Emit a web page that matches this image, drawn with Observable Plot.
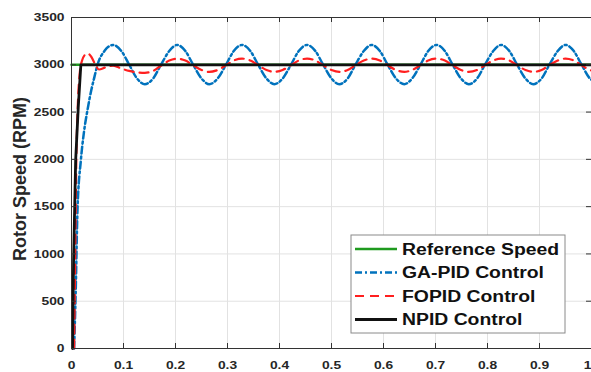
<!DOCTYPE html>
<html><head><meta charset="utf-8">
<script src="https://cdn.jsdelivr.net/npm/d3@7"></script>
<script src="https://cdn.jsdelivr.net/npm/@observablehq/plot@0.6"></script>
<style>
body{margin:0;background:#fff;}
#chart{width:591px;height:372px;overflow:hidden;position:relative;}
</style>
</head><body><div id="chart"></div>
<script>
// ---- data ----
const xTicks = [0,0.1,0.2,0.3,0.4,0.5,0.6,0.7,0.8,0.9,1];
const xTickLabels = ["0","0.1","0.2","0.3","0.4","0.5","0.6","0.7","0.8","0.9","1"];
const yTicks = [0,500,1000,1500,2000,2500,3000,3500];
const yTickLabels = ["0","500","1000","1500","2000","2500","3000","3500"];
const yLabel = "Rotor Speed (RPM)";
const seriesNames = ["Reference Speed","GA-PID Control","FOPID Control","NPID Control"];

const tRef = [0, 1];
const vRef = [3000, 3000];

const tNPID = [0.002,0.004,0.008,0.013,0.018,1.0];
const vNPID = [0,930,1990,2550,3000,3000];

const tGA = [0.005,0.008,0.0115,0.018,0.024,0.031,0.038,0.044,0.050,0.064,
0.080,0.096,0.111,0.126,0.141,0.157,0.172,0.188,
0.203,0.219,0.234,0.250,0.265,0.281,0.297,0.312,
0.328,0.344,0.359,0.375,0.390,0.406,0.422,0.437,
0.453,0.469,0.484,0.500,0.515,0.531,0.546,0.562,
0.577,0.593,0.608,0.624,0.640,0.655,0.671,0.686,
0.702,0.718,0.733,0.749,0.764,0.780,0.795,0.811,
0.826,0.842,0.857,0.873,0.888,0.904,0.919,0.935,
0.950,0.966,0.981,0.997,1.000];
const vGA = [0,580,1460,1990,2290,2530,2730,2870,3000,3150,
3210,3145,3000,2855,2795,2855,3000,3145,
3210,3145,3000,2855,2795,2855,3000,3145,
3210,3145,3000,2855,2795,2855,3000,3145,
3210,3145,3000,2855,2795,2855,3000,3145,
3210,3145,3000,2855,2795,2855,3000,3145,
3210,3145,3000,2855,2795,2855,3000,3145,
3210,3145,3000,2855,2795,2855,3000,3145,
3210,3145,3000,2855,2840];

const tFO = [0.005,0.007,0.009,0.012,0.016,0.020,0.025,0.031,0.038,0.046,0.053,0.064,
0.080,0.096,0.111,0.126,0.141,0.157,0.172,0.188,
0.203,0.219,0.234,0.250,0.265,0.281,0.297,0.312,
0.328,0.344,0.359,0.375,0.390,0.406,0.422,0.437,
0.453,0.469,0.484,0.500,0.515,0.531,0.546,0.562,
0.577,0.593,0.608,0.624,0.640,0.655,0.671,0.686,
0.702,0.718,0.733,0.749,0.764,0.780,0.795,0.811,
0.826,0.842,0.857,0.873,0.888,0.904,0.919,0.935,
0.950,0.966,0.981,0.997,1.000];
const vFO = [0,900,1900,2550,2920,3040,3100,3120,3085,3000,2950,2970,
2990,2960,2935,2920,2915,2935,2990,3045,
3065,3045,2995,2945,2925,2945,2995,3045,
3065,3045,2995,2945,2925,2945,2995,3045,
3065,3045,2995,2945,2925,2945,2995,3045,
3065,3045,2995,2945,2925,2945,2995,3045,
3065,3045,2995,2945,2925,2945,2995,3045,
3065,3045,2995,2945,2925,2945,2995,3045,
3065,3045,2995,2945,2940];

// ---- styles ----
const colors = ["#1f9a1f","#0072BD","#ff1f1f","#111111"];
const dashes = [null,"7,3,2,3","9,6",null];
const widths = [2.5,2.5,2.2,2.8];

const W=591,H=372,mL=71,mR=0,mT=17,mB=24;
const pw=W-mL-mR, ph=H-mT-mB;
const rows=(t,v)=>t.map((d,i)=>({t:d,v:v[i]}));

const chart = Plot.plot({
  width:W,height:H,marginLeft:mL,marginRight:mR,marginTop:mT,marginBottom:mB,
  style:{fontFamily:"'Liberation Sans', Arial, sans-serif",fontSize:"11.5px",fontWeight:"bold",color:"#262626",background:"#fff"},
  x:{domain:[0,1]},
  y:{domain:[0,3500]},
  marks:[
    Plot.gridX(xTicks,{stroke:"#e2e2e2",strokeOpacity:1}),
    Plot.gridY(yTicks,{stroke:"#e2e2e2",strokeOpacity:1}),
    Plot.line(rows(tRef,vRef),{x:"t",y:"v",stroke:colors[0],strokeWidth:widths[0]}),
    Plot.line(rows(tGA,vGA),{x:"t",y:"v",stroke:colors[1],strokeWidth:widths[1],strokeDasharray:dashes[1],curve:"monotone-x"}),
    Plot.line(rows(tFO,vFO),{x:"t",y:"v",stroke:colors[2],strokeWidth:widths[2],strokeDasharray:dashes[2],curve:"monotone-x"}),
    Plot.line(rows(tNPID,vNPID),{x:"t",y:"v",stroke:colors[3],strokeWidth:widths[3]}),
    Plot.frame({stroke:"#333"}),
    Plot.tickX(xTicks,{x:d=>d,insetTop:ph-5,stroke:"#333"}),
    Plot.tickX(xTicks,{x:d=>d,insetBottom:ph-5,stroke:"#333"}),
    Plot.tickY(yTicks,{y:d=>d,insetRight:pw-5,stroke:"#333"}),
    Plot.tickY(yTicks,{y:d=>d,insetLeft:pw-5,stroke:"#333"}),
    Plot.axisX(xTicks,{tickSize:0,tickPadding:12,tickFormat:d=>xTickLabels[xTicks.indexOf(d)],label:null}),
    Plot.axisY(yTicks,{tickSize:0,tickPadding:7,tickFormat:d=>yTickLabels[yTicks.indexOf(d)],label:null}),
    Plot.text([yLabel],{text:d=>d,frameAnchor:"left",textAnchor:"middle",dx:-51,dy:-4,rotate:-90,fontSize:18,fontWeight:"bold",fill:"#262626",ariaLabel:"y-label"})
  ]
});
document.getElementById("chart").appendChild(chart);

const svg=d3.select(chart);
// horizontal stretch of tick texts, like the reference
const stretch = 1.2;
svg.selectAll("g[aria-label='x-axis tick label'] text, g[aria-label='y-axis tick label'] text").each(function(){
  const L=this.getComputedTextLength();
  this.setAttribute("textLength",L*stretch);
  this.setAttribute("lengthAdjust","spacingAndGlyphs");
});
// keep the last x tick label ("1") inside the picture
const xl=svg.selectAll("g[aria-label='x-axis tick label'] text").nodes();
if(xl.length){const last=xl[xl.length-1]; last.setAttribute("text-anchor","end"); last.setAttribute("dx","0");}
// the rotated axis label: widen glyph height (screen x)
svg.selectAll("g[aria-label='y-label'] text").each(function(){
  const tr=this.getAttribute("transform")||"";
  this.setAttribute("transform",tr+" scale(1,1.2)");
});

// legend
const lg=svg.append("g").attr("text-anchor","start");
lg.append("rect").attr("x",351).attr("y",235).attr("width",214).attr("height",98)
  .attr("fill","#fff").attr("stroke","#8a8a8a").attr("stroke-width",1);
seriesNames.forEach((name,i)=>{
  const y=249+i*23.5;
  lg.append("line").attr("x1",355).attr("x2",397).attr("y1",y).attr("y2",y)
    .attr("stroke",colors[i]).attr("stroke-width",widths[i])
    .attr("stroke-dasharray",dashes[i]);
  const t=lg.append("text").attr("x",402).attr("y",y).attr("dy","0.36em")
    .attr("text-anchor","start")
    .attr("font-size",16).attr("font-weight","bold").attr("fill","#111").text(name);
  const L=t.node().getComputedTextLength();
  t.attr("textLength",L*1.21).attr("lengthAdjust","spacingAndGlyphs");
});
</script>
</body></html>
